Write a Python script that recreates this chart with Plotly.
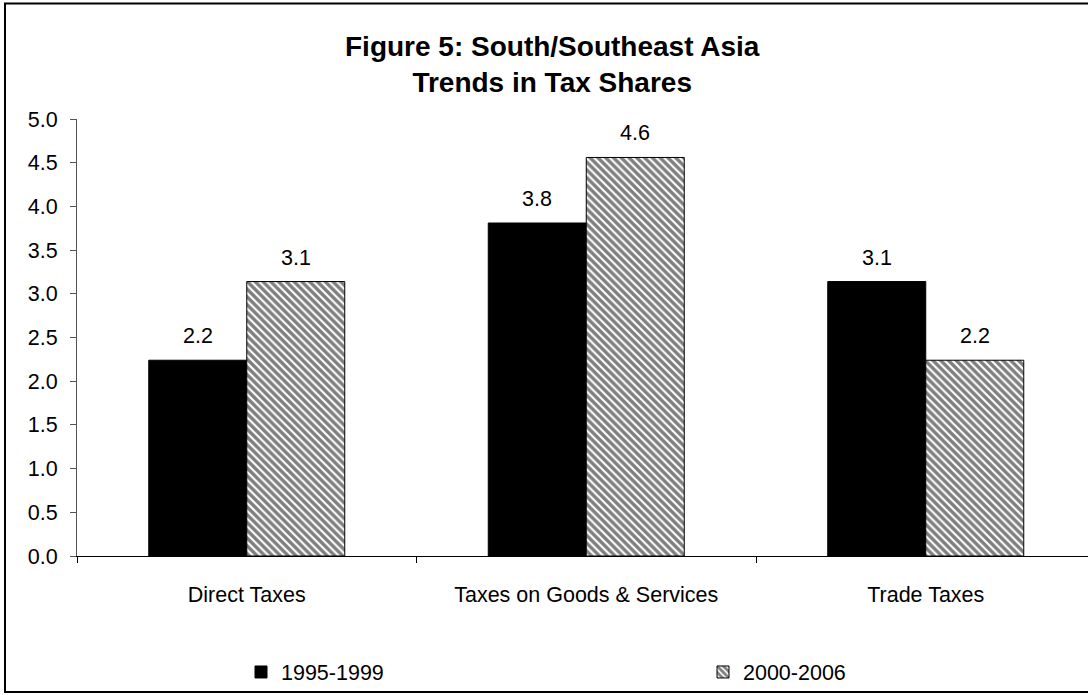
import plotly.graph_objects as go

categories = ["Direct Taxes", "Taxes on Goods & Services", "Trade Taxes"]
series_names = ["1995-1999", "2000-2006"]
values_1995_1999 = [2.24, 3.81, 3.14]
values_2000_2006 = [3.14, 4.56, 2.24]
y_ticks = [0.0, 0.5, 1.0, 1.5, 2.0, 2.5, 3.0, 3.5, 4.0, 4.5, 5.0]

W, H = 1088, 695
ML, MR, MT, MB = 77, 0, 119, 139
PW, PH = W - ML - MR, H - MT - MB
CAT_PX = 339.5  # pixel width of one category slot

def px_x(p):
    return (p - ML) / PW

def px_y(p):
    return (H - MB - p) / PH

font = "Liberation Sans, Arial, sans-serif"
FS = 21.5

fig = go.Figure()
fig.add_trace(go.Bar(
    x=categories, y=values_1995_1999, name=series_names[0], legend="legend",
    marker=dict(color="black", line=dict(color="black", width=1)),
))
fig.add_trace(go.Bar(
    x=categories, y=values_2000_2006, name=series_names[1], legend="legend2",
    marker=dict(color="white", line=dict(color="black", width=1),
                pattern=dict(shape="\\", fgcolor="black", bgcolor="white",
                             size=5.5, solidity=0.62, fillmode="overlay")),
))

annotations = []
bar_w_px = 98
for vals, shift in ((values_1995_1999, -bar_w_px / 2), (values_2000_2006, bar_w_px / 2)):
    for c, v in zip(categories, vals):
        annotations.append(dict(
            x=c, y=v, xref="x", yref="y", text=f"{v:.1f}", showarrow=False,
            xshift=shift, yshift=24, yanchor="middle",
            font=dict(family=font, size=FS, color="black"),
        ))

annotations.append(dict(
    text="<b>Figure 5: South/Southeast Asia</b><br><b>Trends in Tax Shares</b>",
    xref="paper", yref="paper", x=px_x(552), y=px_y(64), showarrow=False,
    xanchor="center", yanchor="middle",
    font=dict(family=font, size=28, color="black"),
))

legend_common = dict(
    orientation="h", xanchor="left", yanchor="middle", itemwidth=30,
    font=dict(family=font, size=FS, color="black"),
    bgcolor="rgba(0,0,0,0)",
)

fig.update_layout(
    width=W, height=H,
    margin=dict(l=ML, r=MR, t=MT, b=MB, pad=0),
    paper_bgcolor="white", plot_bgcolor="white",
    barmode="group", bargap=1 - 2 * bar_w_px / CAT_PX, bargroupgap=0,
    font=dict(family=font, size=FS, color="black"),
    showlegend=True,
    legend=dict(x=px_x(241), y=px_y(672), **legend_common),
    legend2=dict(x=px_x(703), y=px_y(672), **legend_common),
    annotations=annotations,
    shapes=[dict(
        type="rect", xref="paper", yref="paper",
        x0=px_x(5), x1=px_x(1100), y0=px_y(692), y1=px_y(3.5),
        line=dict(color="black", width=2), fillcolor="rgba(0,0,0,0)", layer="below",
    )],
)

fig.update_xaxes(
    range=[-0.5, -0.5 + PW / CAT_PX],
    showline=True, linecolor="black", linewidth=1,
    ticks="outside", ticklen=6, tickcolor="black", tickson="boundaries",
    ticklabelstandoff=19, showgrid=False, zeroline=False,
    tickfont=dict(family=font, size=FS, color="black"),
)
fig.update_yaxes(
    range=[0, 5], tickvals=y_ticks, ticktext=[f"{t:.1f}" for t in y_ticks],
    showline=True, linecolor="#555", linewidth=1,
    ticks="outside", ticklen=6, tickcolor="#555",
    ticklabelstandoff=8, showgrid=False, zeroline=False,
    tickfont=dict(family=font, size=FS, color="black"),
)

fig.write_html("out.html")
